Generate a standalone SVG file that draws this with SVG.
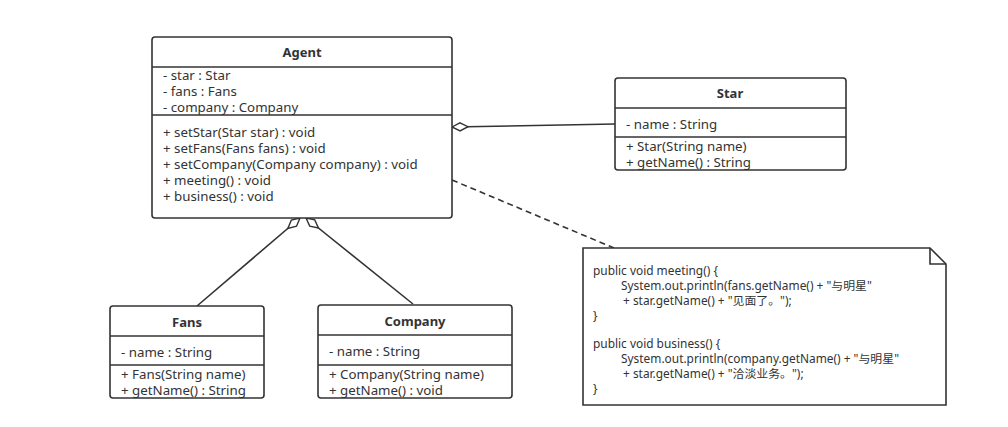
<svg xmlns="http://www.w3.org/2000/svg" width="1008" height="427" viewBox="0 0 1008 427">
<defs>
<style>
.box{fill:#fff;stroke:#333;stroke-width:1.6}
.sep{stroke:#333;stroke-width:1.6}
.t{font-family:"Noto Sans","Liberation Sans",sans-serif;font-size:13.3px;fill:#333}
.h{font-family:"Noto Sans","Liberation Sans",sans-serif;font-size:13px;font-weight:bold;fill:#333;text-anchor:middle}
.n{font-family:"Noto Sans","Noto Sans CJK SC",sans-serif;font-size:11.9px;fill:#333}
.c{fill:none;stroke:#333;stroke-width:1.6}
</style>
<marker id="dia" markerUnits="userSpaceOnUse" markerWidth="20" markerHeight="12" refX="0" refY="5" orient="auto" viewBox="0 0 20 10" overflow="visible">
<polygon points="0,5 8,1 16,5 8,9" fill="#fff" stroke="#333" stroke-width="1.4"/>
</marker>
</defs>
<rect width="1008" height="427" fill="#fff"/>
<g id="connectors">
<path class="c" d="M452,127 L615,124" marker-start="url(#dia)"/>
<path class="c" d="M300,218 L197,306" marker-start="url(#dia)"/>
<path class="c" d="M306,218 L413,304" marker-start="url(#dia)"/>
<path class="c" d="M452,180 L614,248" stroke-dasharray="6,4"/>
</g>
<g id="agent">
<rect class="box" x="152" y="37" width="300" height="181" rx="3"/>
<line class="sep" x1="152" y1="67" x2="452" y2="67"/>
<line class="sep" x1="152" y1="115" x2="452" y2="115"/>
<text class="h" x="302" y="57">Agent</text>
<text class="t" x="163" y="80">- star : Star</text>
<text class="t" x="163" y="96">- fans : Fans</text>
<text class="t" x="163" y="112">- company : Company</text>
<text class="t" x="163" y="137">+ setStar(Star star) : void</text>
<text class="t" x="163" y="153">+ setFans(Fans fans) : void</text>
<text class="t" x="163" y="169">+ setCompany(Company company) : void</text>
<text class="t" x="163" y="185">+ meeting() : void</text>
<text class="t" x="163" y="201">+ business() : void</text>
</g>
<g id="star">
<rect class="box" x="615" y="78" width="231" height="92" rx="3"/>
<line class="sep" x1="615" y1="108" x2="846" y2="108"/>
<line class="sep" x1="615" y1="137" x2="846" y2="137"/>
<text class="h" x="730" y="98">Star</text>
<text class="t" x="626" y="129">- name : String</text>
<text class="t" x="626" y="151">+ Star(String name)</text>
<text class="t" x="626" y="167">+ getName() : String</text>
</g>
<g id="fans">
<rect class="box" x="110" y="306" width="154" height="92" rx="3"/>
<line class="sep" x1="110" y1="336" x2="264" y2="336"/>
<line class="sep" x1="110" y1="365" x2="264" y2="365"/>
<text class="h" x="187" y="327">Fans</text>
<text class="t" x="121" y="357">- name : String</text>
<text class="t" x="121" y="379">+ Fans(String name)</text>
<text class="t" x="121" y="395">+ getName() : String</text>
</g>
<g id="company">
<rect class="box" x="318" y="305" width="194" height="93" rx="3"/>
<line class="sep" x1="318" y1="335" x2="512" y2="335"/>
<line class="sep" x1="318" y1="365" x2="512" y2="365"/>
<text class="h" x="415" y="326">Company</text>
<text class="t" x="329" y="356">- name : String</text>
<text class="t" x="329" y="379">+ Company(String name)</text>
<text class="t" x="329" y="395">+ getName() : void</text>
</g>
<g id="note">
<path class="box" d="M583,248 L930,248 L946,264 L946,405 L583,405 Z"/>
<path class="c" d="M930,248 L930,264 L946,264"/>
<text class="n" x="593" y="275">public void meeting() {</text>
<text class="n" x="621" y="290">System.out.println(fans.getName() + "与明星"</text>
<text class="n" x="623" y="305">+ star.getName() + "见面了。");</text>
<text class="n" x="593" y="320">}</text>
<text class="n" x="593" y="348">public void business() {</text>
<text class="n" x="621" y="363">System.out.println(company.getName() + "与明星"</text>
<text class="n" x="623" y="378">+ star.getName() + "洽淡业务。");</text>
<text class="n" x="593" y="393">}</text>
</g>
</svg>
